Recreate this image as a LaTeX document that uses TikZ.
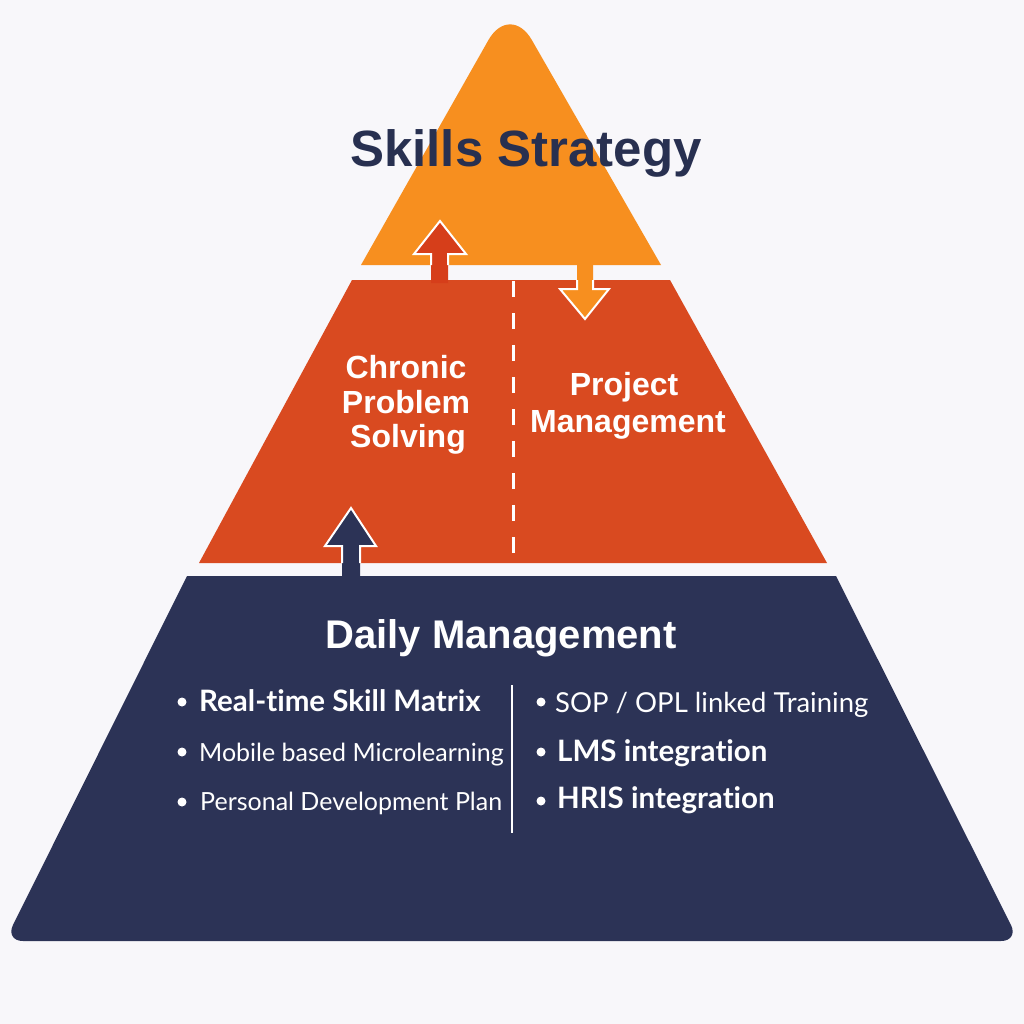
\documentclass[tikz,border=0pt]{standalone}
\usepackage{fontspec}
\setmainfont{Liberation Sans}
\newfontfamily\bulletfont[RawFeature={-liga;-dlig}]{Lato}
\definecolor{bgc}{HTML}{F8F7FA}
\definecolor{topc}{HTML}{F78F1F}
\definecolor{midc}{HTML}{D94A20}
\definecolor{botc}{HTML}{2C3356}
\definecolor{titlec}{HTML}{283050}
\definecolor{uparr}{HTML}{D63E1A}
\tikzset{
  tiertext/.style={text=white,font=\bfseries\fontsize{32}{35}\selectfont,anchor=base,inner sep=0pt},
  bulltext/.style={text=white,anchor=base west,inner sep=0pt},
  boldbull/.style={bulltext,font=\bulletfont\bfseries\fontsize{29.5}{32}\selectfont},
  regbull/.style={bulltext,font=\bulletfont\fontsize{25}{28}\selectfont},
  dot/.style={fill=white,draw=none},
  arrline/.style={draw=white,line width=2pt,line join=miter},
}
\begin{document}
\begin{tikzpicture}[x=1pt,y=-1pt]
\useasboundingbox (0,0) rectangle (1024,1024);
\fill[bgc] (0,0) rectangle (1024,1024);
% top tier
\fill[topc] (361,265) [rounded corners=44pt] -- (510,2) [sharp corners] -- (661,265) -- cycle;
% middle tier
\fill[midc] (352,280) -- (670,280) -- (827,563) -- (199,563) -- cycle;
% bottom tier
\fill[botc] (187,576) -- (836,576) [rounded corners=18pt] -- (1019,941) -- (5,941) [sharp corners] -- cycle;
% dashed divider in middle tier
\draw[white,line width=3pt,dash pattern=on 16pt off 16pt] (513,281) -- (513,562);
% divider in bottom tier
\draw[white,line width=2.5pt] (512,685) -- (512,833);
% up arrow (middle -> top)
\fill[uparr] (431,283) -- (431,254) -- (414,254) -- (440,221) -- (466,254) -- (448,254) -- (448,283) -- cycle;
\draw[arrline] (431,265) -- (431,254) -- (414,254) -- (440,221) -- (466,254) -- (448,254) -- (448,265);
% down arrow (top -> middle)
\fill[topc] (577,263) -- (577,289) -- (560,289) -- (585,319) -- (609,289) -- (593,289) -- (593,263) -- cycle;
\draw[arrline] (577,280) -- (577,289) -- (560,289) -- (585,319) -- (609,289) -- (593,289) -- (593,280);
% navy arrow (bottom -> middle)
\fill[botc] (342,578) -- (342,546) -- (325,546) -- (351,508) -- (376,546) -- (360,546) -- (360,578) -- cycle;
\draw[arrline] (342,563) -- (342,546) -- (325,546) -- (351,508) -- (376,546) -- (360,546) -- (360,563);
% texts
\node[text=titlec,font=\bfseries\fontsize{51}{55}\selectfont,anchor=base,inner sep=0pt] (title) at (526,167) {Skills Strategy};
\node[tiertext] (c1) at (406,378) {Chronic};
\node[tiertext] (c2) at (406,413) {Problem};
\node[tiertext] (c3) at (408,447) {Solving};
\node[tiertext] (p1) at (624,395) {Project};
\node[tiertext] (p2) at (628,432) {Management};
\node[text=white,font=\bfseries\fontsize{40}{44}\selectfont,anchor=base,inner sep=0pt] (daily) at (501,648) {Daily Management};
% bullets left
\fill[dot] (182,702) circle (4.5pt);
\fill[dot] (182,752) circle (4.5pt);
\fill[dot] (182,802) circle (4.5pt);
\node[boldbull] (b1) at (199,711) {Real-time Skill Matrix};
\node[regbull] (b2) at (199,761) {Mobile based Microlearning};
\node[regbull] (b3) at (200,810) {Personal Development Plan};
% bullets right
\fill[dot] (541,702) circle (4.5pt);
\fill[dot] (541,752) circle (4.5pt);
\fill[dot] (541,801) circle (4.5pt);
\node[regbull,font=\bulletfont\fontsize{27.5}{30}\selectfont] (b4) at (555,712) {SOP / OPL linked Training};
\node[boldbull] (b5) at (557,761) {LMS integration};
\node[boldbull] (b6) at (557,808) {HRIS integration};
\end{tikzpicture}
\end{document}
